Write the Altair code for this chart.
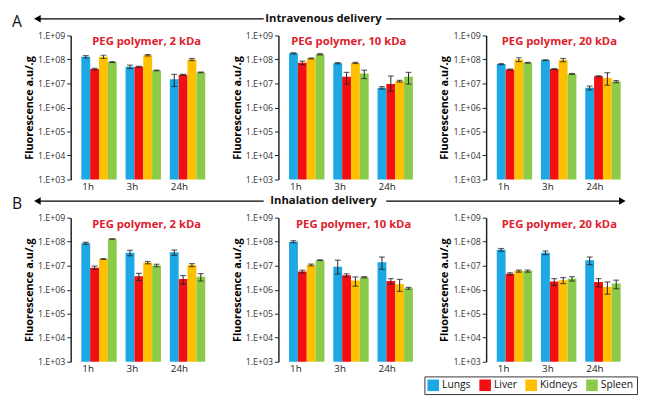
import altair as alt
import pandas as pd

times = ["1h", "3h", "24h"]
organs = ["Lungs", "Liver", "Kidneys", "Spleen"]
colors = ["#1CA8E4", "#F20F14", "#FFC000", "#8CCB4A"]
RED = "#E0202C"
FONT = "Open Sans"

# values: rows = time (1h, 3h, 24h), cols = organ (Lungs, Liver, Kidneys, Spleen)
iv_2kda = [[1.3e8, 4.0e7, 1.3e8, 7.8e7], [5.0e7, 5.0e7, 1.5e8, 3.5e7], [1.5e7, 2.3e7, 1.0e8, 2.9e7]]
iv_2kda_err = [[1.5e7, 3e6, 2e7, 3e6], [8e6, 2e6, 1e7, 1e6], [9e6, 1e6, 1e7, 1e6]]
iv_10kda = [[1.8e8, 7.3e7, 1.1e8, 1.65e8], [7.0e7, 1.9e7, 7.2e7, 2.6e7], [6.6e6, 9.5e6, 1.25e7, 1.9e7]]
iv_10kda_err = [[1e7, 1.2e7, 4e6, 1e7], [4e6, 1e7, 4e6, 1e7], [8e5, 1.1e7, 1e6, 1e7]]
iv_20kda = [[6.4e7, 3.8e7, 1.0e8, 7.3e7], [9.4e7, 4.0e7, 9.5e7, 2.5e7], [6.6e6, 2.0e7, 1.7e7, 1.2e7]]
iv_20kda_err = [[3e6, 2e6, 1.8e7, 3e6], [3e6, 2e6, 1.5e7, 1e6], [1.2e6, 1e6, 1.1e7, 1.2e6]]
inh_2kda = [[8.6e7, 8.3e6, 1.9e7, 1.3e8], [3.5e7, 3.6e6, 1.35e7, 1.03e7], [3.6e7, 2.8e6, 1.07e7, 3.5e6]]
inh_2kda_err = [[8e6, 1.3e6, 8e5, 3e6], [9e6, 1.2e6, 1.5e6, 1.2e6], [9e6, 1.1e6, 1.5e6, 1.2e6]]
inh_10kda = [[1.0e8, 5.7e6, 1.07e7, 1.7e7], [9.0e6, 4.0e6, 2.4e6, 3.3e6], [1.4e7, 2.3e6, 1.7e6, 1.15e6]]
inh_10kda_err = [[1e7, 8e5, 1e6, 5e5], [8e6, 6e5, 1e6, 2e5], [9e6, 6e5, 1e6, 1e5]]
inh_20kda = [[4.6e7, 4.6e6, 6.0e6, 6.0e6], [3.5e7, 2.2e6, 2.5e6, 2.9e6], [1.7e7, 2.1e6, 1.3e6, 1.8e6]]
inh_20kda_err = [[6e6, 5e5, 6e5, 6e5], [6e6, 7e5, 7e5, 6e5], [6e6, 8e5, 8e5, 7e5]]

panel_titles = ["PEG polymer, 2 kDa", "PEG polymer, 10 kDa", "PEG polymer, 20 kDa"]
tick_values = [1e3, 1e4, 1e5, 1e6, 1e7, 1e8, 1e9]

W = 140
H = 147


def panel_df(vals, errs):
    rows = []
    for i, t in enumerate(times):
        for j, o in enumerate(organs):
            v = vals[i][j]
            e = errs[i][j]
            rows.append(dict(time=t, organ=o, value=v, lo=max(v - e, v * 0.5), hi=v + e))
    return pd.DataFrame(rows)


color_enc = alt.Color(
    "organ:N",
    sort=organs,
    scale=alt.Scale(domain=organs, range=colors),
    legend=alt.Legend(
        title=None, orient="none", legendX=421, legendY=371, direction="horizontal",
        symbolType="square", symbolSize=140, symbolStrokeWidth=0, labelFontSize=10.5,
        labelFont=FONT, labelColor="#111", strokeColor="#333", fillColor="white",
        padding=3, columnPadding=8, symbolOffset=0, labelOffset=3,
    ),
)

y_axis = alt.Axis(values=tick_values, labelExpr="'1.E+0' + round(log(datum.value) / LN10)",
                  title="Fluorescence a.u/.g", titleFontWeight="bold", titleFontSize=11,
                  titleColor="#000", grid=False, domainColor="#222", domainWidth=1.5,
                  tickColor="#222", tickSize=4, labelFontSize=9, labelPadding=2,
                  labelColor="#333", titlePadding=3)
y_scale = alt.Scale(type="log", domain=[1e3, 1e9], nice=False)


def y_enc(field):
    return alt.Y(field, scale=y_scale, axis=y_axis, title="Fluorescence a.u/.g")


def panel(vals, errs, title, tx):
    df = panel_df(vals, errs)
    base = alt.Chart(df)
    x = alt.X(
        "time:N", sort=times,
        scale=alt.Scale(paddingInner=0.2, paddingOuter=0.15, align=0.8),
        axis=alt.Axis(title=None, domain=False, ticks=False, labelAngle=0, labelAlign="left",
                      labelOffset=-17, labelPadding=2, labelFontSize=10, labelColor="#222"),
    )
    xo = alt.XOffset("organ:N", sort=organs, scale=alt.Scale(paddingInner=0, paddingOuter=0))
    bars = base.mark_bar().encode(x=x, xOffset=xo, y=y_enc("value:Q"), y2=alt.datum(1000), color=color_enc)
    rules = base.mark_rule(color="#222", strokeWidth=1).encode(
        x=x, xOffset=xo, y=y_enc("lo:Q"), y2="hi:Q")
    cap_hi = base.mark_tick(color="#222", thickness=1.2, size=6).encode(
        x=x, xOffset=xo, y=y_enc("hi:Q"))
    cap_lo = base.mark_tick(color="#222", thickness=1.2, size=6).encode(
        x=x, xOffset=xo, y=y_enc("lo:Q"))
    ttl = alt.Chart(pd.DataFrame({"t": [title]})).mark_text(
        align="left", baseline="middle", color=RED, fontWeight="bold", fontSize=11.5, font=FONT
    ).encode(text="t:N", x=alt.value(tx), y=alt.value(7))
    return alt.layer(bars, rules, cap_hi, cap_lo, ttl).properties(width=W, height=H)


def spacer():
    return alt.Chart(pd.DataFrame({"a": [0]})).mark_point(opacity=0).encode(
        x=alt.value(0), y=alt.value(0)).properties(width=4, height=10)


def header(letter, label, yv, h):
    b = alt.Chart(pd.DataFrame({"a": [0]}))
    lt = b.mark_text(align="left", baseline="middle", fontSize=16, font=FONT, color="#111").encode(
        x=alt.value(0), y=alt.value(yv + 3), text=alt.value(letter))
    r1 = b.mark_rule(color="#000", strokeWidth=1.3).encode(x=alt.value(26), x2=alt.value(257), y=alt.value(yv))
    r2 = b.mark_rule(color="#000", strokeWidth=1.3).encode(x=alt.value(382), x2=alt.value(622), y=alt.value(yv))
    a1 = b.mark_point(shape="triangle-left", filled=True, color="#000", size=60, opacity=1).encode(
        x=alt.value(26), y=alt.value(yv))
    a2 = b.mark_point(shape="triangle-right", filled=True, color="#000", size=60, opacity=1).encode(
        x=alt.value(623), y=alt.value(yv))
    tx = b.mark_text(align="center", baseline="middle", fontSize=11.5, fontWeight="bold", font=FONT,
                     color="#111").encode(x=alt.value(318), y=alt.value(yv), text=alt.value(label))
    return alt.layer(lt, r1, r2, a1, a2, tx).properties(width=628, height=h)


rowA = alt.hconcat(
    spacer(),
    alt.hconcat(
        panel(iv_2kda, iv_2kda_err, panel_titles[0], 22),
        panel(iv_10kda, iv_10kda_err, panel_titles[1], 13),
        panel(iv_20kda, iv_20kda_err, panel_titles[2], 16),
        spacing=22,
    ),
    spacing=6,
)
rowB = alt.hconcat(
    spacer(),
    alt.hconcat(
        panel(inh_2kda, inh_2kda_err, panel_titles[0], 22),
        panel(inh_10kda, inh_10kda_err, panel_titles[1], 18),
        panel(inh_20kda, inh_20kda_err, panel_titles[2], 16),
        spacing=22,
    ),
    spacing=6,
)

chart = alt.vconcat(
    header("A", "Intravenous delivery", 6, 12), rowA,
    header("B", "Inhalation delivery", 8, 14), rowB,
    spacing=0,
).properties(
    padding={"left": 0, "top": 0, "right": 0, "bottom": 0}
).configure_view(stroke="transparent").configure_axis(
    labelFont=FONT, titleFont=FONT
)

chart.save("out.html", embed_options={"renderer": "svg", "actions": False})
